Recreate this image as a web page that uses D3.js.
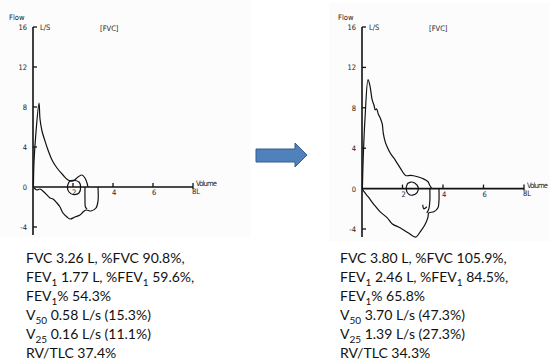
<!DOCTYPE html>
<html>
  <head>
    <meta http-equiv="Content-Type" content="text/html; charset=UTF-8">
    <script src="https://d3js.org/d3.v7.min.js"></script>
    <style type="text/css">
      body { margin: 0; background: #fff; }
      .tick-label { font-family: 'DejaVu Sans Condensed', 'DejaVu Sans', sans-serif; font-size: 7.5px; fill: #222; }
      .stats { font-family: 'Lato', sans-serif; font-size: 14px; fill: #111; }
    </style>
  </head>
  <body>
    <div id="canvas"></div>
    <script type="text/javascript">
      // flow-volume loops, [volume L, flow L/s]
      var leftExp = [[0.02,0],[0.05,2.5],[0.15,5.5],[0.3,8.4],[0.35,6.8],[0.45,5.6],[0.6,4.6],[0.75,3.7],[0.95,2.7],
                     [1.2,1.9],[1.5,1.2],[1.75,0.7],[2.0,0.6],[2.25,1.0],[2.45,1.2],[2.6,0.9],[2.7,0.4],[2.75,0]];
      var leftInsp = [[3.25,0],[3.25,-1.4],[3.15,-2.1],[2.9,-2.4],[2.65,-2.3],[2.5,-2.5],[2.35,-2.8],[2.1,-3.0],
                      [1.85,-3.2],[1.7,-3.0],[1.5,-2.6],[1.35,-2.0],[1.2,-1.6],[1.0,-1.2],[0.85,-1.1],[0.6,-0.6],
                      [0.35,-0.2],[0.2,-0.3],[0.05,-0.1]];
      var leftInner = [[2.6,0],[2.6,-1.2],[2.62,-2.0],[2.7,-2.2]];
      var leftTidal = [[1.8,0.5],[1.72,0],[1.8,-0.5],[2.0,-0.75],[2.3,-0.6],[2.38,0],[2.3,0.5],[2.1,0.65],[1.85,0.6],[1.8,0.5]];

      var rightExp = [[0.02,0],[0.06,3],[0.15,7],[0.3,10.8],[0.4,10.1],[0.5,8.8],[0.6,8.2],[0.65,7.8],[0.72,7.9],
                      [0.8,7.4],[0.9,7.0],[1.0,6.4],[1.05,5.5],[1.15,4.6],[1.25,4.1],[1.4,3.5],[1.65,2.8],[1.9,2.0],
                      [2.15,1.3],[2.4,1.3],[2.7,1.2],[3.0,1.0],[3.25,0.7],[3.35,0.3],[3.45,0]];
      var rightInsp = [[3.8,0],[3.8,-1.2],[3.75,-1.9],[3.55,-2.3],[3.3,-2.4],[3.25,-2.9],[3.1,-3.6],[2.9,-4.2],
                       [2.65,-4.8],[2.3,-4.4],[1.9,-3.9],[1.5,-3.5],[1.25,-2.9],[0.9,-2.3],[0.6,-1.6],[0.3,-0.8],
                       [0.1,-0.3],[0,0]];
      var rightInner = [[3.35,0],[3.35,-1.2],[3.3,-2.0],[3.2,-2.4]];
      var rightHook = [[3.0,-1.6],[3.05,-2.0],[3.2,-1.8]];
      var rightTidal = [[2.25,0.5],[2.18,0],[2.3,-0.55],[2.5,-0.65],[2.72,-0.4],[2.78,0.1],[2.6,0.55],[2.4,0.65],[2.25,0.5]];

      var flowTicks = [16, 12, 8, 4, 0, -4];
      var volTicks = [2, 4, 6];

      var leftStats = ["FVC 3.26 L, %FVC 90.8%,", "FEV_{1} 1.77 L, %FEV_{1} 59.6%,", "FEV_{1}% 54.3%",
                       "V_{50} 0.58 L/s (15.3%)", "V_{25} 0.16 L/s (11.1%)", "RV/TLC 37.4%"];
      var rightStats = ["FVC 3.80 L, %FVC 105.9%,", "FEV_{1} 2.46 L, %FEV_{1} 84.5%,", "FEV_{1}% 65.8%",
                        "V_{50} 3.70 L/s (47.3%)", "V_{25} 1.39 L/s (27.3%)", "RV/TLC 34.3%"];

      var svg = d3.select('#canvas').append('svg')
                  .attr('width', 550)
                  .attr('height', 363);

      // scanned picture backgrounds
      svg.append('rect').attr('x', 0).attr('y', 0).attr('width', 250).attr('height', 238).attr('fill', '#fcfcfc');
      svg.append('rect').attr('x', 329).attr('y', 3).attr('width', 221).attr('height', 238).attr('fill', '#fcfcfc');

      var drawPanel = function (xr, yr, loops, labelX) {
        var x = d3.scaleLinear().domain([0, 8]).range(xr);
        var y = d3.scaleLinear().domain([-4, 16]).range(yr);
        var g = svg.append('g');
        var ax = x(0);

        // y axis
        g.append('line').attr('x1', ax).attr('x2', ax).attr('y1', y(16)).attr('y2', y(-4.8))
          .attr('stroke', '#111').attr('stroke-width', 1.6);
        flowTicks.forEach(function (t) {
          if (t != 0) {
            g.append('line').attr('x1', ax).attr('x2', ax + 4).attr('y1', y(t)).attr('y2', y(t))
              .attr('stroke', '#111').attr('stroke-width', 1.3);
          }
          g.append('text').attr('class', 'tick-label').attr('text-anchor', 'end')
            .attr('x', ax - 6).attr('y', y(t) + 3).text(t);
        });
        // x axis
        g.append('line').attr('x1', ax).attr('x2', x(8)).attr('y1', y(0)).attr('y2', y(0))
          .attr('stroke', '#111').attr('stroke-width', 1.6);
        volTicks.forEach(function (t) {
          g.append('line').attr('x1', x(t)).attr('x2', x(t)).attr('y1', y(0)).attr('y2', y(0) - 4)
            .attr('stroke', '#111').attr('stroke-width', 1.3);
          g.append('text').attr('class', 'tick-label').attr('x', x(t) - 1).attr('y', y(0) + 8).text(t);
        });
        g.append('line').attr('x1', x(8)).attr('x2', x(8)).attr('y1', y(0) - 4).attr('y2', y(0) + 2)
          .attr('stroke', '#111').attr('stroke-width', 1.3);
        g.append('text').attr('class', 'tick-label').attr('x', x(8) - 1).attr('y', y(0) + 7).text('8L');
        g.append('text').attr('class', 'tick-label').attr('x', x(8) + 3).attr('y', y(0) - 1)
          .attr('textLength', 21).text('Volume');

        g.append('text').attr('class', 'tick-label').attr('x', ax - 24).attr('y', y(16) - 7).text('Flow');
        g.append('text').attr('class', 'tick-label').attr('x', ax + 7).attr('y', y(16) + 3).text('L/S');
        g.append('text').attr('class', 'tick-label').attr('x', labelX).attr('y', y(16) + 4).text('[FVC]');

        var line = d3.line()
          .x(function (d) { return x(d[0]); })
          .y(function (d) { return y(d[1]); })
          .curve(d3.curveCatmullRom.alpha(0.5));
        loops.forEach(function (pts) {
          g.append('path').attr('d', line(pts)).attr('fill', 'none')
            .attr('stroke', '#111').attr('stroke-width', 1.2).attr('stroke-linejoin', 'round');
        });
      }

      drawPanel([33, 193], [227, 27], [leftExp, leftInsp, leftInner, leftTidal], 100);
      drawPanel([362, 524], [229, 27], [rightExp, rightInsp, rightInner, rightHook, rightTidal], 429);

      // arrow between the two pictures
      svg.append('path')
        .attr('d', 'M256,149 L295,149 L295,143 L307,155 L295,167 L295,162 L256,162 Z')
        .attr('fill', '#4F81BD').attr('stroke', '#385D8A').attr('stroke-width', 1);

      var writeStats = function (lines, x0, y0) {
        lines.forEach(function (s, i) {
          var t = svg.append('text').attr('class', 'stats').attr('x', x0).attr('y', y0 + i * 19);
          var shift = 0;
          s.split(/(_\{[^}]*\})/).forEach(function (part) {
            if (part.indexOf('_{') == 0) {
              t.append('tspan').attr('dy', 4).attr('font-size', '10px').text(part.slice(2, -1));
              shift = -4;
            } else if (part.length) {
              t.append('tspan').attr('dy', shift).text(part);
              shift = 0;
            }
          });
        });
      }
      writeStats(leftStats, 26, 263);
      writeStats(rightStats, 340, 263);
    </script>
  </body>
</html>
